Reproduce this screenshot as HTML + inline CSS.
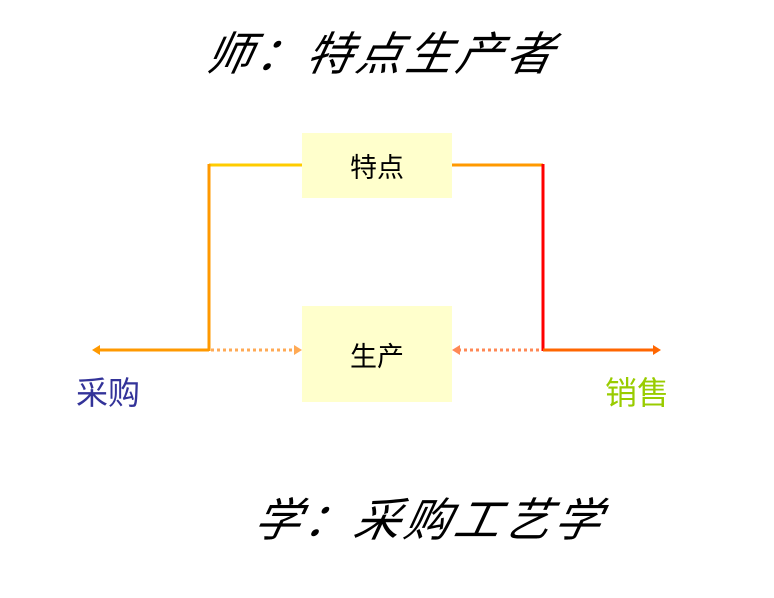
<!DOCTYPE html>
<html><head><meta charset="utf-8"><style>
body{margin:0;width:774px;height:598px;background:#fff;position:relative;overflow:hidden;font-family:"Liberation Sans","Noto Sans CJK SC",sans-serif}
.t{position:absolute;font-size:46px;font-style:italic;letter-spacing:4px;white-space:nowrap;color:#000;font-family:"Noto Sans CJK SC",sans-serif;transform:skewX(-12deg)}
.box{position:absolute;background:#ffffcc;display:flex;align-items:center;justify-content:center;font-size:27px;font-family:"Noto Sans CJK SC",sans-serif}
.lbl{position:absolute;font-size:32px;font-family:"Noto Sans CJK SC",sans-serif;line-height:1}
</style></head><body>
<div class="t" style="left:208px;top:18px">师：特点生产者</div>
<div class="t" style="left:256px;top:484px">学：采购工艺学</div>
<svg width="774" height="598" style="position:absolute;left:0;top:0">
<line x1="209" y1="165" x2="302" y2="165" stroke="#ffcc00" stroke-width="3"/>
<line x1="209" y1="164" x2="209" y2="351" stroke="#ff9900" stroke-width="3"/>
<line x1="98" y1="350" x2="209" y2="350" stroke="#ff9900" stroke-width="3"/>
<polygon points="92,350 100,345 100,355" fill="#ff9900"/>
<line x1="211" y1="350" x2="296" y2="350" stroke="#ffaa55" stroke-width="3" stroke-dasharray="3,3"/>
<polygon points="302,350 294,345 294,355" fill="#ffaa55"/>
<line x1="452" y1="165" x2="543" y2="165" stroke="#ff9900" stroke-width="3"/>
<line x1="543" y1="164" x2="543" y2="351" stroke="#ff0000" stroke-width="3"/>
<line x1="543" y1="350" x2="655" y2="350" stroke="#ff6600" stroke-width="3"/>
<polygon points="661,350 653,345 653,355" fill="#ff6600"/>
<line x1="458" y1="350" x2="541" y2="350" stroke="#ff8855" stroke-width="3" stroke-dasharray="3,3"/>
<polygon points="452,350 460,345 460,355" fill="#ff8855"/>
</svg>
<div class="box" style="left:302px;top:133px;width:150px;height:65px">特点</div>
<div class="box" style="left:302px;top:306px;width:150px;height:96px">生产</div>
<div class="lbl" style="left:76px;top:375px;color:#333399">采购</div>
<div class="lbl" style="left:605px;top:375px;color:#99cc00">销售</div>
</body></html>
